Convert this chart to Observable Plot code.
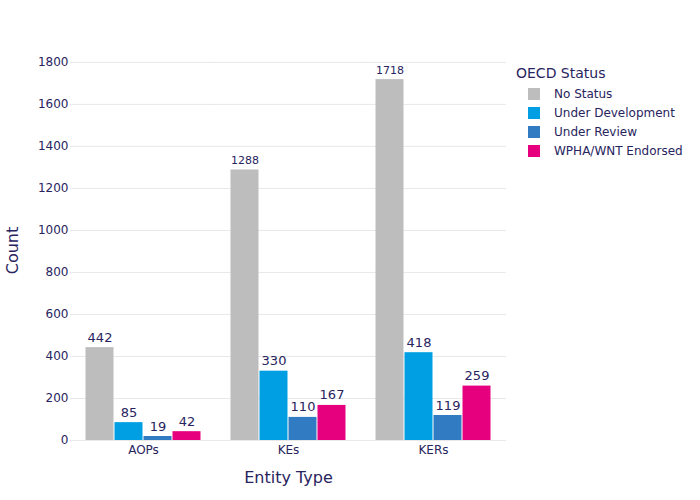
<!DOCTYPE html>
<html><head><meta charset="utf-8">
<script src="https://cdn.jsdelivr.net/npm/d3@7"></script>
<script src="https://cdn.jsdelivr.net/npm/@observablehq/plot@0.6"></script>
<style>
body{margin:0;background:#fff;font-family:"DejaVu Sans",sans-serif;}
#wrap{position:relative;width:700px;height:500px;}
#legend{position:absolute;left:516px;top:65px;color:#28245e;font-size:12px;}
#legend .title{font-size:14px;margin-bottom:3px;}
#legend .item{display:flex;align-items:center;height:19px;padding-left:12px;}
#legend .sw{width:12px;height:12px;margin-right:14px;}
g[aria-label="y-axis label"] text, g[aria-label="fx-axis label"] text{font-size:16px;}
</style>
</head><body>
<div id="wrap"><div id="chart"></div><div id="legend"></div></div>
<script>
const entityTypes = ["AOPs", "KEs", "KERs"];
const statuses = ["No Status", "Under Development", "Under Review", "WPHA/WNT Endorsed"];
const noStatus = [442, 1288, 1718];
const underDevelopment = [85, 330, 418];
const underReview = [19, 110, 119];
const endorsed = [42, 167, 259];
const yTicks = [0, 200, 400, 600, 800, 1000, 1200, 1400, 1600, 1800];
const colors = ["#bdbdbd", "#009fe3", "#317bc2", "#e6007e"];
const textColor = "#28245e";

const series = [noStatus, underDevelopment, underReview, endorsed];
const data = [];
entityTypes.forEach((e, i) => statuses.forEach((s, j) => data.push({entity: e, status: s, value: series[j][i]})));

const chart = Plot.plot({
  width: 700, height: 500,
  marginLeft: 70, marginRight: 195, marginTop: 60, marginBottom: 60,
  style: {fontFamily: "DejaVu Sans, sans-serif", fontSize: "12px", color: textColor, background: "#fff"},
  fx: {domain: entityTypes, paddingInner: 0.2, paddingOuter: 0.1, label: "Entity Type", axis: null},
  x: {domain: statuses, padding: 0, axis: null},
  y: {domain: [0, 1809], label: "Count"},
  color: {domain: statuses, range: colors},
  marks: [
    Plot.ruleY(yTicks, {y: d => d, stroke: "#e8e8e8", strokeWidth: 1, insetLeft: -15, insetRight: -15}),
    Plot.axisY({ticks: yTicks, tickFormat: d3.format("d"), tickSize: 0, tickPadding: 17, label: "Count", labelAnchor: "center", labelArrow: "none", labelOffset: 79}),
    Plot.axisFx({anchor: "bottom", tickSize: 0, tickPadding: 5, label: "Entity Type", labelAnchor: "center", labelArrow: "none", labelOffset: 42}),
    Plot.barY(data, {fx: "entity", x: "status", y: "value", fill: "status", insetLeft: 0.5, insetRight: 0.5}),
    Plot.text(data, {fx: "entity", x: "status", y: "value", text: d => String(d.value), lineAnchor: "bottom", dy: -6,
      fontSize: d => String(d.value).length >= 4 ? 11 : 13, fill: textColor})
  ]
});
document.getElementById("chart").appendChild(chart);

const legend = document.getElementById("legend");
legend.innerHTML = `<div class="title">OECD Status</div>` +
  statuses.map((s, i) => `<div class="item"><div class="sw" style="background:${colors[i]}"></div><span>${s}</span></div>`).join("");
</script>
</body></html>
